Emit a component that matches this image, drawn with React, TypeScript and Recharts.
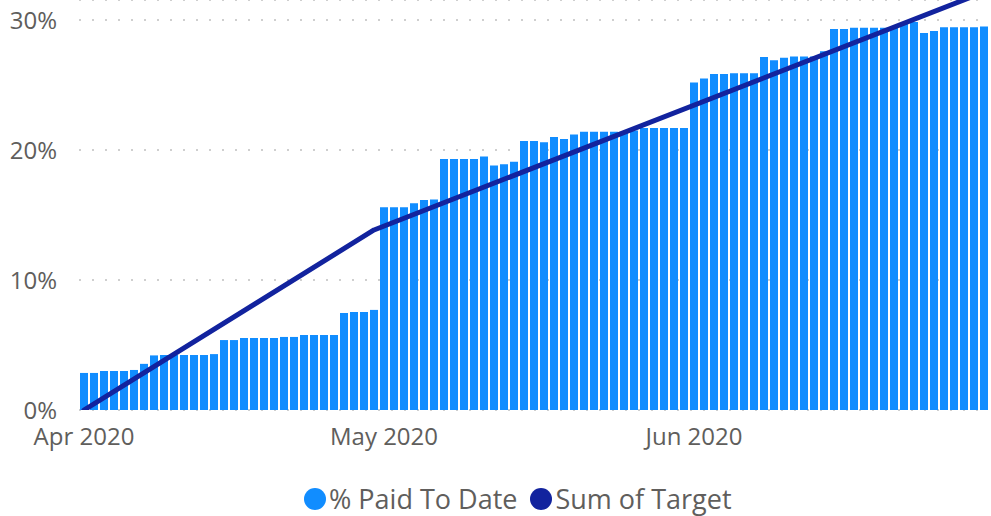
import React from 'react';
import { ComposedChart, Bar, Line, XAxis, YAxis, CartesianGrid, Legend } from 'recharts';

const dates: string[] = [
  'Apr 1','Apr 2','Apr 3','Apr 4','Apr 5','Apr 6','Apr 7','Apr 8','Apr 9','Apr 10',
  'Apr 11','Apr 12','Apr 13','Apr 14','Apr 15','Apr 16','Apr 17','Apr 18','Apr 19','Apr 20',
  'Apr 21','Apr 22','Apr 23','Apr 24','Apr 25','Apr 26','Apr 27','Apr 28','Apr 29','Apr 30',
  'May 1','May 2','May 3','May 4','May 5','May 6','May 7','May 8','May 9','May 10',
  'May 11','May 12','May 13','May 14','May 15','May 16','May 17','May 18','May 19','May 20',
  'May 21','May 22','May 23','May 24','May 25','May 26','May 27','May 28','May 29','May 30','May 31',
  'Jun 1','Jun 2','Jun 3','Jun 4','Jun 5','Jun 6','Jun 7','Jun 8','Jun 9','Jun 10',
  'Jun 11','Jun 12','Jun 13','Jun 14','Jun 15','Jun 16','Jun 17','Jun 18','Jun 19','Jun 20',
  'Jun 21','Jun 22','Jun 23','Jun 24','Jun 25','Jun 26','Jun 27','Jun 28','Jun 29','Jun 30',
];

// % Paid To Date (percent)
const paidToDate: number[] = [
  2.85, 2.85, 3.0, 3.0, 3.0, 3.08, 3.55, 4.2, 4.23, 4.23,
  4.23, 4.23, 4.23, 4.3, 5.38, 5.38, 5.54, 5.54, 5.54, 5.54,
  5.62, 5.62, 5.77, 5.77, 5.77, 5.77, 7.46, 7.54, 7.54, 7.7,
  15.6, 15.6, 15.6, 15.9, 16.15, 16.2, 19.3, 19.3, 19.3, 19.3,
  19.5, 18.8, 18.9, 19.1, 20.7, 20.7, 20.6, 21.0, 20.85, 21.2,
  21.4, 21.4, 21.4, 21.4, 21.4, 21.5, 21.7, 21.7, 21.7, 21.7, 21.7,
  25.2, 25.5, 25.85, 25.85, 25.9, 25.9, 25.9, 27.15, 26.9, 27.1,
  27.2, 27.2, 27.2, 27.6, 29.3, 29.3, 29.4, 29.4, 29.4, 29.4,
  29.5, 29.7, 29.85, 29.0, 29.15, 29.45, 29.45, 29.45, 29.45, 29.5,
];

// Sum of Target (percent) at its break points
const targetDates: string[] = ['Apr 1', 'Apr 30', 'Jun 30'];
const targetValues: number[] = [0, 13.85, 32.15];

const tickDates: string[] = ['Apr 1', 'May 1', 'Jun 1'];
const tickLabels: string[] = ['Apr 2020', 'May 2020', 'Jun 2020'];

const yTicks: number[] = [0, 10, 20, 30];

const seriesNames: string[] = ['% Paid To Date', 'Sum of Target'];
const seriesColors: string[] = ['#118DFF', '#12239E'];

const data = dates.map((d, i) => {
  const ti = targetDates.indexOf(d);
  return { date: d, paid: paidToDate[i], target: ti >= 0 ? targetValues[ti] : null };
});

const FONT = "'Open Sans', sans-serif";
const TEXT = '#605E5C';

const LegendContent = () => (
  <div style={{ display: 'flex', alignItems: 'center', paddingLeft: 304, fontFamily: FONT, fontSize: 27, color: TEXT, lineHeight: '30px' }}>
    {seriesNames.map((n, i) => (
      <div key={n} style={{ display: 'flex', alignItems: 'center', marginRight: 13 }}>
        <span style={{ width: 22, height: 22, borderRadius: 11, background: seriesColors[i], display: 'inline-block', marginRight: 3 }} />
        <span>{n}</span>
      </div>
    ))}
  </div>
);

export default function App() {
  return (
    <div style={{ position: 'absolute', left: 0, top: 0, width: 991, height: 516, background: '#fff' }}>
      <ComposedChart width={991} height={516} data={data} margin={{ top: 0, right: 2, left: 0, bottom: 0 }} style={{ fontFamily: FONT }}>
        <CartesianGrid vertical={false} stroke="#CFCFCF" strokeWidth={2} strokeDasharray="2 11" />
        <XAxis
          dataKey="date"
          ticks={tickDates}
          interval={0}
          tickFormatter={(v: string) => tickLabels[tickDates.indexOf(v)]}
          axisLine={false}
          tickLine={false}
          tickMargin={12}
          height={106}
          tick={{ fill: TEXT, fontSize: 24 }}
        />
        <YAxis
          domain={[0, 31.54]}
          allowDataOverflow
          ticks={yTicks}
          tickFormatter={(v: number) => `${v}%`}
          axisLine={false}
          tickLine={false}
          tickMargin={16}
          width={79}
          tick={{ fill: TEXT, fontSize: 24 }}
        />
        <Bar dataKey="paid" name={seriesNames[0]} fill={seriesColors[0]} barSize={8} isAnimationActive={false} />
        <Line
          dataKey="target"
          name={seriesNames[1]}
          stroke={seriesColors[1]}
          strokeWidth={5}
          dot={false}
          connectNulls
          type="linear"
          strokeLinecap="round"
          strokeLinejoin="round"
          isAnimationActive={false}
        />
        <Legend layout="horizontal" verticalAlign="middle" align="center" content={<LegendContent />} wrapperStyle={{ top: 484, left: 0, width: 991 }} />
      </ComposedChart>
    </div>
  );
}
